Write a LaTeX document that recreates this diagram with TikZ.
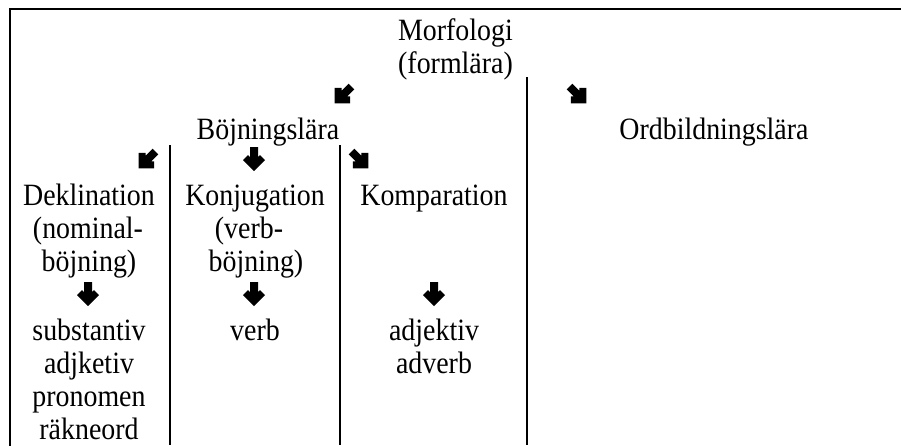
\documentclass[tikz,border=0pt]{standalone}
\usepackage{fontspec}
\setmainfont[FakeStretch=0.9]{Liberation Serif}
\begin{document}
\begin{tikzpicture}[x=1pt,y=-1pt,
  lbl/.style={font=\fontsize{31}{33}\selectfont, inner sep=0pt, anchor=base},
  rule/.style={line width=1.8pt, black},
  pics/bigarrow/.style={code={
    \fill[black] (-4,-12) -- (4,-12) -- (4,-1.9) -- (6.05,-3.95) -- (11,1)
      -- (0,12) -- (-11,1) -- (-6.05,-3.95) -- (-4,-1.9) -- cycle;}}]
\useasboundingbox (0,0) rectangle (901,445);
% frame and dividers
\coordinate (tl) at (10,9);
\coordinate (tr) at (901,9);
\coordinate (bl) at (10,445);
\draw[rule, line cap=rect] (bl) -- (tl) -- (tr);
\coordinate (d1t) at (170,145); \coordinate (d1b) at (170,445);
\coordinate (d2t) at (340,145); \coordinate (d2b) at (340,445);
\coordinate (d3t) at (527,77);  \coordinate (d3b) at (527,445);
\draw[rule] (d1t) -- (d1b);
\draw[rule] (d2t) -- (d2b);
\draw[rule] (d3t) -- (d3b);
% texts
\node[lbl] (morf) at (455.5,40) {Morfologi};
\node[lbl] (form) at (455.5,73) {(formlära)};
\node[lbl] (bojn) at (268,139) {Böjningslära};
\node[lbl] (ordb) at (714,139) {Ordbildningslära};
\node[lbl] (dek1) at (89,205) {Deklination};
\node[lbl] (dek2) at (88,238) {(nominal-};
\node[lbl] (dek3) at (89,271) {böjning)};
\node[lbl] (kon1) at (255,205) {Konjugation};
\node[lbl] (kon2) at (249,238) {(verb-};
\node[lbl] (kon3) at (256,271) {böjning)};
\node[lbl] (kom1) at (434,205) {Komparation};
\node[lbl] (sub) at (89,340) {substantiv};
\node[lbl] (adj) at (89,373) {adjketiv};
\node[lbl] (pro) at (89,406) {pronomen};
\node[lbl] (rak) at (89,439) {räkneord};
\node[lbl] (verb) at (255,340) {verb};
\node[lbl] (adjk) at (434,340) {adjektiv};
\node[lbl] (adv) at (434,373) {adverb};
% arrows
\pic[rotate=-45] (a1) at (343,95) {bigarrow};
\pic[rotate=45] (a2) at (578,95) {bigarrow};
\pic[rotate=-45] (a3) at (147,160) {bigarrow};
\pic (a4) at (254,159) {bigarrow};
\pic[rotate=45] (a5) at (360,160) {bigarrow};
\pic (a6) at (88,294) {bigarrow};
\pic (a7) at (254,294) {bigarrow};
\pic (a8) at (434,294) {bigarrow};
\end{tikzpicture}
\end{document}
